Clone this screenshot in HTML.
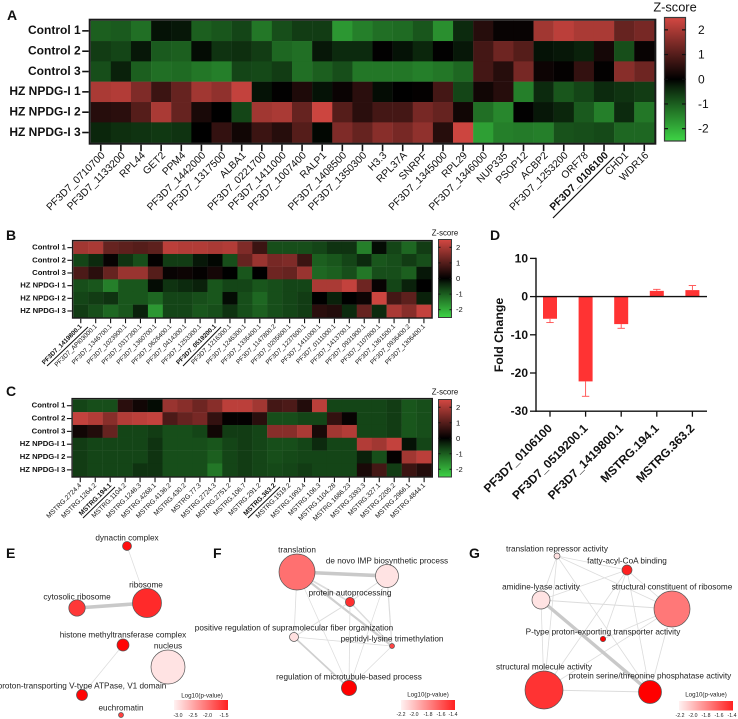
<!DOCTYPE html>
<html lang="en">
<head>
<meta charset="utf-8">
<title>Z-score heatmaps, fold change and enrichment networks</title>
<style>
html,body{margin:0;padding:0;background:#fff;width:738px;height:719px;overflow:hidden}
svg{display:block;filter:blur(.3px)}
text{font-family:"Liberation Sans",sans-serif;fill:#111}
.letter{font-size:14px;font-weight:bold;dominant-baseline:central}
.node-label{font-size:8.2px;text-anchor:middle;dominant-baseline:central;fill:#222}
.leg-title{font-size:6.2px;text-anchor:middle;dominant-baseline:central;fill:#222}
.leg-tick{font-size:5.2px;text-anchor:middle;dominant-baseline:central;fill:#222}
.edge{stroke:#dcdcdc;fill:none}
.node{stroke:#555;stroke-width:.7}
</style>
</head>
<body>
<svg id="figure" xmlns="http://www.w3.org/2000/svg" width="738" height="719" viewBox="0 0 738 719">
<defs>
<linearGradient id="legend-gradient" x1="0" x2="1" y1="0" y2="0">
<stop offset="0" stop-color="#fff2f2"/>
<stop offset="1" stop-color="#ff2020"/>
</linearGradient>
</defs>
<rect x="0" y="0" width="738" height="719" fill="#fff"/>

<text class="letter" x="7" y="15">A</text>
<text class="letter" x="6" y="235">B</text>
<text class="letter" x="6" y="391">C</text>
<text class="letter" x="490" y="235">D</text>
<text class="letter" x="6" y="553">E</text>
<text class="letter" x="213" y="553">F</text>
<text class="letter" x="469" y="553">G</text>

<g id="panel-a"></g>
<g id="panel-b"></g>
<g id="panel-c"></g>
<g id="panel-d"></g>

<line x1="553" y1="218" x2="614" y2="157" stroke="#111" stroke-width="1.2"/>
<line x1="47" y1="366" x2="88" y2="327" stroke="#111" stroke-width="1"/>
<line x1="183" y1="366" x2="221" y2="327" stroke="#111" stroke-width="1"/>
<line x1="83" y1="518" x2="115" y2="487" stroke="#111" stroke-width="1"/>
<line x1="248" y1="518" x2="280" y2="487" stroke="#111" stroke-width="1"/>

<!-- Panel E network -->
<g>
<line class="edge" x1="127" y1="546" x2="147" y2="603" stroke-width=".7"/>
<line class="edge" x1="77" y1="608" x2="147" y2="603" stroke-width="3.6" style="stroke:#c9c9c9"/>
<line class="edge" x1="123" y1="645" x2="82" y2="695" stroke-width=".7"/>
<circle class="node" cx="127" cy="546" r="4.5" fill="#ff1010"/>
<circle class="node" cx="147" cy="603" r="14.5" fill="#ff2a2a"/>
<circle class="node" cx="77" cy="608" r="8.2" fill="#ff3838"/>
<circle class="node" cx="123" cy="645" r="6" fill="#ff0505"/>
<circle class="node" cx="168" cy="667" r="17" fill="#ffe3e3"/>
<circle class="node" cx="82" cy="695" r="5.5" fill="#ff0505"/>
<circle class="node" cx="121" cy="715" r="2.5" fill="#ff4040"/>
<text class="node-label" x="127" y="538">dynactin complex</text>
<text class="node-label" x="146" y="585">ribosome</text>
<text class="node-label" x="77" y="597">cytosolic ribosome</text>
<text class="node-label" x="123" y="635">histone methyltransferase complex</text>
<text class="node-label" x="168" y="646">nucleus</text>
<text class="node-label" x="82" y="686">proton-transporting V-type ATPase, V1 domain</text>
<text class="node-label" x="121" y="708">euchromatin</text>
<text class="leg-title" x="202" y="696">Log10(p-value)</text>
<rect x="174" y="700" width="54" height="10" fill="url(#legend-gradient)"/>
<text class="leg-tick" x="178" y="716">-3.0</text>
<text class="leg-tick" x="193" y="716">-2.5</text>
<text class="leg-tick" x="207.5" y="716">-2.0</text>
<text class="leg-tick" x="224" y="716">-1.5</text>
</g>

<!-- Panel F network -->
<g>
<line class="edge" x1="297" y1="572" x2="387" y2="576" stroke-width="3.6" style="stroke:#c9c9c9"/>
<line class="edge" x1="297" y1="572" x2="392" y2="646" stroke-width="2.2" style="stroke:#cfcfcf"/>
<line class="edge" x1="297" y1="572" x2="350" y2="602" stroke-width="1.6"/>
<line class="edge" x1="297" y1="572" x2="294" y2="637" stroke-width=".8"/>
<line class="edge" x1="297" y1="572" x2="349" y2="688" stroke-width=".7"/>
<line class="edge" x1="387" y1="576" x2="350" y2="602" stroke-width="1"/>
<line class="edge" x1="387" y1="576" x2="392" y2="646" stroke-width="1.2"/>
<line class="edge" x1="387" y1="576" x2="349" y2="688" stroke-width=".7"/>
<line class="edge" x1="350" y1="602" x2="294" y2="637" stroke-width="1"/>
<line class="edge" x1="350" y1="602" x2="349" y2="688" stroke-width=".8"/>
<line class="edge" x1="350" y1="602" x2="392" y2="646" stroke-width="1.4"/>
<line class="edge" x1="294" y1="637" x2="349" y2="688" stroke-width="1.7" style="stroke:#cfcfcf"/>
<line class="edge" x1="294" y1="637" x2="392" y2="646" stroke-width=".8"/>
<line class="edge" x1="392" y1="646" x2="349" y2="688" stroke-width=".7"/>
<circle class="node" cx="297" cy="572" r="18" fill="#ff7070"/>
<circle class="node" cx="387" cy="576" r="11.5" fill="#ffe3e3"/>
<circle class="node" cx="350" cy="602" r="4.6" fill="#ff3030"/>
<circle class="node" cx="294" cy="637" r="4.5" fill="#ffe0e0"/>
<circle class="node" cx="392" cy="646" r="2.5" fill="#ff4444"/>
<circle class="node" cx="349" cy="688" r="7.6" fill="#ff0000"/>
<text class="node-label" x="297" y="550">translation</text>
<text class="node-label" x="387" y="561">de novo IMP biosynthetic process</text>
<text class="node-label" x="350" y="593">protein autoprocessing</text>
<text class="node-label" x="294" y="628">positive regulation of supramolecular fiber organization</text>
<text class="node-label" x="392" y="639">peptidyl-lysine trimethylation</text>
<text class="node-label" x="349" y="677">regulation of microtubule-based process</text>
<text class="leg-title" x="428" y="695">Log10(p-value)</text>
<rect x="401" y="700" width="54" height="10" fill="url(#legend-gradient)"/>
<text class="leg-tick" x="401" y="715">-2.2</text>
<text class="leg-tick" x="414" y="715">-2.0</text>
<text class="leg-tick" x="428" y="715">-1.8</text>
<text class="leg-tick" x="441" y="715">-1.6</text>
<text class="leg-tick" x="453" y="715">-1.4</text>
</g>

<!-- Panel G network -->
<g>
<line class="edge" x1="557" y1="556" x2="627" y2="570" stroke-width=".8"/>
<line class="edge" x1="557" y1="556" x2="541" y2="600" stroke-width=".8"/>
<line class="edge" x1="557" y1="556" x2="672" y2="609" stroke-width=".8"/>
<line class="edge" x1="557" y1="556" x2="650" y2="692" stroke-width=".8"/>
<line class="edge" x1="557" y1="556" x2="544" y2="690" stroke-width=".8"/>
<line class="edge" x1="627" y1="570" x2="541" y2="600" stroke-width=".8"/>
<line class="edge" x1="627" y1="570" x2="672" y2="609" stroke-width=".8"/>
<line class="edge" x1="627" y1="570" x2="544" y2="690" stroke-width=".8"/>
<line class="edge" x1="627" y1="570" x2="603" y2="639" stroke-width=".8"/>
<line class="edge" x1="627" y1="570" x2="650" y2="692" stroke-width=".8"/>
<line class="edge" x1="541" y1="600" x2="672" y2="609" stroke-width="1"/>
<line class="edge" x1="541" y1="600" x2="544" y2="690" stroke-width=".8"/>
<line class="edge" x1="672" y1="609" x2="544" y2="690" stroke-width=".8"/>
<line class="edge" x1="672" y1="609" x2="603" y2="639" stroke-width=".8"/>
<line class="edge" x1="672" y1="609" x2="650" y2="692" stroke-width=".8"/>
<line class="edge" x1="544" y1="690" x2="650" y2="692" stroke-width="1"/>
<line class="edge" x1="541" y1="600" x2="650" y2="692" stroke-width="3.4" style="stroke:#c9c9c9"/>
<circle class="node" cx="557" cy="556" r="3" fill="#ffe0e0"/>
<circle class="node" cx="627" cy="570" r="5" fill="#ff2020"/>
<circle class="node" cx="541" cy="600" r="9" fill="#ffe3e3"/>
<circle class="node" cx="672" cy="609" r="18" fill="#ff7878"/>
<circle class="node" cx="603" cy="639" r="2.7" fill="#ff0000"/>
<circle class="node" cx="544" cy="690" r="19" fill="#ff3333"/>
<circle class="node" cx="650" cy="692" r="11.5" fill="#ff0000"/>
<text class="node-label" x="557" y="549">translation repressor activity</text>
<text class="node-label" x="627" y="561">fatty-acyl-CoA binding</text>
<text class="node-label" x="541" y="587">amidine-lyase activity</text>
<text class="node-label" x="672" y="587">structural constituent of ribosome</text>
<text class="node-label" x="603" y="632">P-type proton-exporting transporter activity</text>
<text class="node-label" x="544" y="667">structural molecule activity</text>
<text class="node-label" x="650" y="676">protein serine/threonine phosphatase activity</text>
<text class="leg-title" x="706" y="695">Log10(p-value)</text>
<rect x="679" y="701" width="54" height="9.5" fill="url(#legend-gradient)"/>
<text class="leg-tick" x="680" y="716">-2.2</text>
<text class="leg-tick" x="693" y="716">-2.0</text>
<text class="leg-tick" x="706" y="716">-1.8</text>
<text class="leg-tick" x="719" y="716">-1.6</text>
<text class="leg-tick" x="732" y="716">-1.4</text>
</g>
</svg>

<script>
const sampleLabels = ["Control 1", "Control 2", "Control 3", "HZ NPDG-I 1", "HZ NPDG-I 2", "HZ NPDG-I 3"];
const colorbarTicks = [2, 1, 0, -1, -2];

const genesA = ["PF3D7_0710700","PF3D7_1133200","RPL44","GET2","PPM4","PF3D7_1442000","PF3D7_1317500","ALBA1","PF3D7_0221700","PF3D7_1411000","PF3D7_1007400","RALP1","PF3D7_1408500","PF3D7_1350300","H3.3","RPL37A","SNRPF","PF3D7_1345000","RPL29","PF3D7_1346000","NUP335","PSOP12","ACBP2","PF3D7_1253200","ORF78","PF3D7_0106100","CHD1","WDR16"];
const boldA = ["PF3D7_0106100"];
const zA = [
[-1.0,-0.95,-1.2,-0.15,-0.2,-1.0,-0.9,-0.7,-1.3,-0.8,-0.6,-0.6,-1.7,-1.4,-1.2,-1.15,-0.9,-1.6,-0.4,0.45,0.1,0.1,1.9,2.2,2.0,2.0,1.2,1.4],
[-0.6,-0.7,-0.2,-0.95,-1.0,-0.1,-0.5,-0.45,-0.6,-1.1,-1.2,-0.2,-0.4,-0.4,0.02,-0.15,-0.35,0.02,-0.2,0.8,1.3,1.0,-0.15,-0.2,-0.3,0.25,-0.8,0.1],
[-0.8,-0.3,-1.0,-1.2,-1.15,-1.3,-1.4,-0.7,-0.75,-0.6,-1.2,-1.0,-0.8,-1.3,-1.3,-1.3,-1.4,-1.3,-1.1,0.8,0.45,1.4,0.15,0.05,0.6,0.03,1.6,1.3],
[2.0,2.1,1.5,0.7,1.2,1.9,1.7,2.3,-0.15,0.02,0.35,-0.15,0.12,0.5,-0.1,0.0,0.05,0.8,-0.7,0.2,0.45,-1.4,-0.4,-0.9,-0.7,-0.4,-0.5,-0.6],
[0.45,0.5,1.0,2.0,1.2,0.3,0.0,-0.7,1.9,2.0,1.2,2.4,1.0,0.5,0.8,0.8,1.4,1.2,0.2,-1.2,-1.5,0.02,-0.2,-0.35,-0.95,-1.4,-0.4,-1.3],
[-0.35,-0.45,-0.5,-0.55,-0.5,0.0,0.6,0.2,0.7,0.45,1.0,-0.05,1.5,1.2,1.6,1.4,1.7,0.45,2.4,-1.8,-1.4,-1.35,-1.4,-0.85,-0.8,-0.75,-1.1,-1.1]
];

const genesB = ["PF3D7_1419800.1","PF3D7_API03000.1","PF3D7_1346700.1","PF3D7_1023900.1","PF3D7_0317300.1","PF3D7_1360700.1","PF3D7_0626400.1","PF3D7_0414300.1","PF3D7_1253300.1","PF3D7_0519200.1","PF3D7_1216300.1","PF3D7_1246300.1","PF3D7_1336400.1","PF3D7_1147800.2","PF3D7_0205600.1","PF3D7_1237600.1","PF3D7_1411000.1","PF3D7_0111000.1","PF3D7_1413700.1","PF3D7_0931900.1","PF3D7_1107800.1","PF3D7_1361500.1","PF3D7_0936400.2","PF3D7_1306400.1"];
const boldB = ["PF3D7_1419800.1","PF3D7_0519200.1"];
const zB = [
[1.9,2.0,1.2,1.1,1.0,1.1,2.2,2.1,2.1,2.0,2.1,1.5,0.7,-0.8,-0.8,-0.8,-0.7,-0.5,-0.5,-1.4,-0.1,-0.7,-1.1,-0.6],
[-0.7,-0.4,0.1,-0.5,-0.8,0.05,-0.6,-0.6,-0.2,-0.05,-0.8,1.2,1.8,1.4,1.5,0.7,-1.0,-0.9,-0.7,-0.4,-0.9,-0.8,-0.6,-0.8],
[0.9,0.5,1.2,1.8,1.8,1.0,0.1,0.15,0.05,0.25,0.0,-0.9,0.0,1.3,1.2,1.8,-1.1,-1.0,-0.8,-1.3,-0.8,-0.8,-1.0,-0.2],
[-0.8,-0.9,-1.4,-0.9,-0.9,-0.1,-0.5,-0.4,-0.3,-0.9,-0.7,-0.7,-0.9,-0.8,-0.7,-0.7,2.0,2.0,2.3,1.3,0.1,-0.7,-0.3,0.0],
[-0.7,-0.6,-0.5,-0.9,-0.9,-1.1,-0.7,-0.7,-0.8,-0.9,-0.1,-0.8,-1.1,-0.8,-0.7,-0.6,0.0,-0.3,0.0,0.15,2.4,0.8,1.1,-0.3],
[-0.6,-0.8,-1.1,-0.9,-0.3,-1.7,-0.7,-0.7,-0.9,-0.8,-0.5,-0.8,-1.0,-0.8,-0.7,-0.6,0.5,0.4,-0.4,1.2,-0.4,2.0,1.6,2.3]
];

const genesC = ["MSTRG.2724.4","MSTRG.1264.2","MSTRG.194.1","MSTRG.1104.2","MSTRG.1246.3","MSTRG.4268.1","MSTRG.4136.2","MSTRG.430.2","MSTRG.77.3","MSTRG.2724.3","MSTRG.2751.2","MSTRG.106.7","MSTRG.291.2","MSTRG.363.2","MSTRG.1519.2","MSTRG.1993.4","MSTRG.106.3","MSTRG.1104.28","MSTRG.1686.23","MSTRG.3393.3","MSTRG.327.1","MSTRG.2205.2","MSTRG.2966.1","MSTRG.4844.1"];
const boldC = ["MSTRG.194.1","MSTRG.363.2"];
const zC = [
[-0.7,-0.8,-0.8,0.5,0.2,-0.1,1.8,1.6,1.3,1.6,2.2,2.2,1.9,0.8,0.9,0.4,2.2,-0.7,-0.7,-0.7,-0.7,-0.6,-0.9,-0.8],
[2.3,2.1,1.6,2.1,2.2,2.3,0.9,1.2,1.4,0.6,0.05,0.05,0.5,-0.8,-0.8,-0.7,-0.7,0.6,0.1,-0.7,-0.7,-0.6,-0.9,-0.8],
[0.2,0.4,1.2,-0.7,-0.7,-0.6,-0.8,-0.8,-0.7,0.2,-0.6,-0.6,-0.7,1.6,1.6,2.0,0.3,1.9,2.1,-0.7,-0.7,-0.6,-0.9,-0.8],
[-0.6,-0.7,-0.7,-0.7,-0.7,-0.5,-0.8,-0.8,-0.8,-0.9,-0.7,-0.6,-0.7,-0.8,-0.8,-0.7,-0.4,-0.7,-0.7,2.1,1.9,2.3,-0.15,-0.7],
[-0.6,-0.7,-0.7,-0.7,-0.7,-0.5,-0.8,-0.8,-0.8,-1.0,-0.7,-0.6,-0.7,-0.8,-0.75,-0.7,-0.7,-0.7,-0.7,-0.3,-0.8,0.05,1.9,2.2],
[-0.6,-0.7,-0.7,-0.7,-0.5,-0.5,-0.8,-0.8,-0.8,-1.3,-0.7,-0.6,-0.7,-0.75,-0.7,-0.6,-0.7,-0.7,-0.7,0.3,0.8,-0.6,0.7,0.4]
];

const barCategories = ["PF3D7_0106100", "PF3D7_0519200.1", "PF3D7_1419800.1", "MSTRG.194.1", "MSTRG.363.2"];
const barValues = [-5.8, -22.2, -7.2, 1.5, 1.7];
const barErrors = [1.0, 3.9, 1.1, 0.4, 1.2];
const barTicks = [10, 0, -10, -20, -30];

const SVGNS = 'http://www.w3.org/2000/svg';
function mk(tag, attrs, parent, txt) {
  const n = document.createElementNS(SVGNS, tag);
  for (const k in attrs) n.setAttribute(k, attrs[k]);
  if (txt !== undefined) n.textContent = txt;
  parent.appendChild(n);
  return n;
}

function zColor(z) {
  const t = Math.min(1, Math.abs(z) / 2.5);
  const end = z >= 0 ? [212, 72, 66] : [62, 212, 70];
  const k = z >= 0 ? t : Math.pow(t, 0.88);
  return 'rgb(' + end.map(c => Math.round(c * k)).join(',') + ')';
}

function drawHeatmap(id, prefix, rows, genes, bold, s) {
  const root = document.getElementById(id);
  const xScale = i => s.left + s.cw * i;
  const yScale = j => s.top + s.ch * j;
  rows.forEach((row, j) => {
    row.forEach((v, i) => {
      const cell = mk('rect', {x: xScale(i), y: yScale(j), width: s.cw + .2, height: s.ch + .2, fill: zColor(v)}, root);
      
      
    });
  });
  const frame = mk('rect', {x: s.left - s.bw / 2, y: s.top - s.bw / 2, width: s.cw * genes.length + s.bw, height: s.ch * rows.length + s.bw, fill: 'none', stroke: '#1a1a1a', 'stroke-width': s.bw}, root);
  
  

  sampleLabels.forEach((name, j) => {
    const y = yScale(j + .5);
    const tick = mk('line', {x1: s.left - s.tick - s.bw, x2: s.left - s.bw, y1: y, y2: y, stroke: '#111', 'stroke-width': s.tw}, root);
    
    
    const label = mk('text', {x: s.left - s.tick - s.bw - 1.5, y: y - s.rowShift, 'text-anchor': 'end', 'dominant-baseline': 'central', 'font-size': s.rowFont, 'font-weight': 'bold'}, root, name);
    
    
  });

  genes.forEach((name, i) => {
    const x = xScale(i + .5);
    const yb = s.top + s.ch * rows.length + s.bw;
    const tick = mk('line', {x1: x, x2: x, y1: yb, y2: yb + s.tick, stroke: '#111', 'stroke-width': s.tw}, root);
    
    
    const isBold = bold.includes(name);
    const lx = x + s.labelDx;
    const ly = yb + s.tick + s.labelDy;
    const label = mk('text', {x: lx, y: ly, 'text-anchor': 'end', 'dominant-baseline': 'central', 'font-size': s.colFont, 'font-weight': isBold ? 'bold' : 'normal', fill: isBold ? '#111' : '#3a3a3a', transform: 'rotate(-45 ' + lx + ' ' + ly + ')'}, root, name);
    
    
  });

  const c = s.bar;
  const cbScale = z => c.top + (2.5 - z) * (c.bottom - c.top) / 5;
  const gid = prefix + '-colorbar-gradient';
  const grad = mk('linearGradient', {id: gid, x1: 0, x2: 0, y1: 0, y2: 1}, root);
  [2.5, 1.25, 0, -0.3, -0.7, -1.25, -2.5].forEach(z => {
    mk('stop', {offset: (2.5 - z) / 5, 'stop-color': zColor(z)}, grad);
  });
  const bar = mk('rect', {x: c.left, y: c.top, width: c.right - c.left, height: c.bottom - c.top, fill: 'url(#' + gid + ')', stroke: '#3a3a3a', 'stroke-width': c.sw}, root);
  
  
  colorbarTicks.forEach(z => {
    const y = cbScale(z);
    const t1 = mk('line', {x1: c.left, x2: c.left + c.t, y1: y, y2: y, stroke: '#111', 'stroke-width': c.sw}, root);
    
    
    const t2 = mk('line', {x1: c.right - c.t, x2: c.right, y1: y, y2: y, stroke: '#111', 'stroke-width': c.sw}, root);
    
    
    const lab = mk('text', {x: c.labelX, y: y, 'dominant-baseline': 'central', 'font-size': c.font}, root, String(z));
    
    
  });
  const title = mk('text', {x: c.titleX, y: c.titleY, 'text-anchor': 'middle', 'dominant-baseline': 'central', 'font-size': c.titleFont}, root, 'Z-score');
  
  
}

drawHeatmap('panel-a', 'heatmap-a', zA, genesA, boldA, {
  left: 90.7, top: 20.7, cw: 20.13, ch: 20.33, bw: 2, tick: 6.5, tw: 1.6, rowFont: 12, rowShift: .7,
  colFont: 10.3, labelDx: 3, labelDy: 3,
  bar: {left: 664.5, right: 685.5, top: 17.5, bottom: 141, sw: 1.2, t: 3.5, labelX: 698, font: 12, titleX: 675, titleY: 7, titleFont: 12.8}
});
drawHeatmap('panel-b', 'heatmap-b', zB, genesB, boldB, {
  left: 73.3, top: 241.3, cw: 14.92, ch: 12.67, bw: 1.4, tick: 4.5, tw: 1.1, rowFont: 7.7, rowShift: .5,
  colFont: 6.4, labelDx: .5, labelDy: 2.5,
  bar: {left: 438.5, right: 451.5, top: 239.5, bottom: 317.5, sw: 1, t: 2, labelX: 456, font: 7.6, titleX: 445, titleY: 233, titleFont: 7.8}
});
drawHeatmap('panel-c', 'heatmap-c', zC, genesC, boldC, {
  left: 72.8, top: 399.3, cw: 14.95, ch: 12.83, bw: 1.4, tick: 4.5, tw: 1.1, rowFont: 7.7, rowShift: .5,
  colFont: 6.7, labelDx: .5, labelDy: 2.5,
  bar: {left: 438.5, right: 451.5, top: 399.5, bottom: 477, sw: 1, t: 2, labelX: 456, font: 7.6, titleX: 445, titleY: 392, titleFont: 7.8}
});

(function drawBars() {
  const root = document.getElementById('panel-d');
  const yScale = v => 296.6 + (0 - v) * 3.82;
  const xScale = i => 550 + 35.6 * i;
  barValues.forEach((v, i) => {
    const x = xScale(i);
    const y0 = yScale(0);
    const y1 = yScale(v);
    const bar = mk('rect', {x: x - 7, y: Math.min(y0, y1), width: 14, height: Math.abs(y1 - y0), fill: '#ff3333'}, root);
    
    
    const tip = v + (v < 0 ? -barErrors[i] : barErrors[i]);
    const stem = mk('line', {x1: x, x2: x, y1: y1, y2: yScale(tip), stroke: '#ff4d4d', 'stroke-width': .9}, root);
    
    
    const cap = mk('line', {x1: x - 3.7, x2: x + 3.7, y1: yScale(tip), y2: yScale(tip), stroke: '#ff4d4d', 'stroke-width': .9}, root);
    
    
    const tick = mk('line', {x1: x, x2: x, y1: yScale(-30), y2: yScale(-30) + 5.5, stroke: '#111', 'stroke-width': 1.3}, root);
    
    
    const lx = x;
    const ly = yScale(-30) + 15;
    const label = mk('text', {x: lx, y: ly, 'text-anchor': 'end', 'dominant-baseline': 'central', 'font-size': 12, 'font-weight': 'bold', transform: 'rotate(-45 ' + lx + ' ' + ly + ')'}, root, barCategories[i]);
    
    
  });
  barTicks.forEach(v => {
    const y = yScale(v);
    const tick = mk('line', {x1: 530, x2: 536, y1: y, y2: y, stroke: '#111', 'stroke-width': 1.3}, root);
    
    
    const label = mk('text', {x: 528, y: y, 'text-anchor': 'end', 'dominant-baseline': 'central', 'font-size': 12, 'font-weight': 'bold'}, root, String(v));
    
    
  });
  const yAxis = mk('line', {x1: 536, x2: 536, y1: yScale(10) - .7, y2: yScale(-30) + .7, stroke: '#111', 'stroke-width': 1.4}, root);
  
  
  const xAxis = mk('line', {x1: 536, x2: 707, y1: yScale(-30), y2: yScale(-30), stroke: '#111', 'stroke-width': 1.4}, root);
  
  
  const zeroLine = mk('line', {x1: 536, x2: 707, y1: yScale(0), y2: yScale(0), stroke: '#111', 'stroke-width': 1.4}, root);
  
  
  const yTitle = mk('text', {x: 499, y: 335, 'text-anchor': 'middle', 'dominant-baseline': 'central', 'font-size': 12.3, 'font-weight': 'bold', transform: 'rotate(-90 499 335)'}, root, 'Fold Change');
  
  
})();
</script>
</body>
</html>
